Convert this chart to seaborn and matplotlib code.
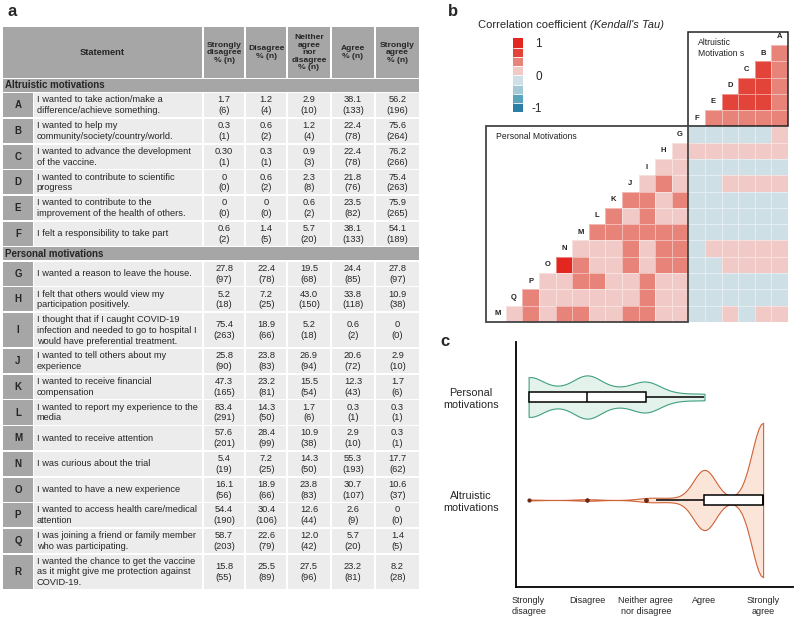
import numpy as np
import pandas as pd
import matplotlib
matplotlib.use("Agg")
import matplotlib.pyplot as plt
from matplotlib.patches import Rectangle
from matplotlib.colors import ListedColormap, Normalize
import matplotlib.cm as cm
import seaborn as sns

sns.set_theme(style="white")
plt.rcParams['font.family'] = ['Liberation Sans', 'DejaVu Sans']

# ---------------- panel a : table data
letters = list("ABCDEFGHIJKLMNOPQR")
statements = [
    "I wanted to take action/make a\ndifference/achieve something.",
    "I wanted to help my\ncommunity/society/country/world.",
    "I wanted to advance the development\nof the vaccine.",
    "I wanted to contribute to scientific\nprogress",
    "I wanted to contribute to the\nimprovement of the health of others.",
    "I felt a responsibility to take part",
    "I wanted a reason to leave the house.",
    "I felt that others would view my\nparticipation positively.",
    "I thought that if I caught COVID-19\ninfection and needed to go to hospital I\nwould have preferential treatment.",
    "I wanted to tell others about my\nexperience",
    "I wanted to receive financial\ncompensation",
    "I wanted to report my experience to the\nmedia",
    "I wanted to receive attention",
    "I was curious about the trial",
    "I wanted to have a new experience",
    "I wanted to access health care/medical\nattention",
    "I was joining a friend or family member\nwho was participating.",
    "I wanted the chance to get the vaccine\nas it might give me protection against\nCOVID-19.",
]
pct_sd = ["1.7", "0.3", "0.30", "0", "0", "0.6", "27.8", "5.2", "75.4", "25.8", "47.3", "83.4", "57.6", "5.4", "16.1", "54.4", "58.7", "15.8"]
n_sd = [6, 1, 1, 0, 0, 2, 97, 18, 263, 90, 165, 291, 201, 19, 56, 190, 203, 55]
pct_d = ["1.2", "0.6", "0.3", "0.6", "0", "1.4", "22.4", "7.2", "18.9", "23.8", "23.2", "14.3", "28.4", "7.2", "18.9", "30.4", "22.6", "25.5"]
n_d = [4, 2, 1, 2, 0, 5, 78, 25, 66, 83, 81, 50, 99, 25, 66, 106, 79, 89]
pct_n = ["2.9", "1.2", "0.9", "2.3", "0.6", "5.7", "19.5", "43.0", "5.2", "26.9", "15.5", "1.7", "10.9", "14.3", "23.8", "12.6", "12.0", "27.5"]
n_n = [10, 4, 3, 8, 2, 20, 68, 150, 18, 94, 54, 6, 38, 50, 83, 44, 42, 96]
pct_a = ["38.1", "22.4", "22.4", "21.8", "23.5", "38.1", "24.4", "33.8", "0.6", "20.6", "12.3", "0.3", "2.9", "55.3", "30.7", "2.6", "5.7", "23.2"]
n_a = [133, 78, 78, 76, 82, 133, 85, 118, 2, 72, 43, 1, 10, 193, 107, 9, 20, 81]
pct_sa = ["56.2", "75.6", "76.2", "75.4", "75.9", "54.1", "27.8", "10.9", "0", "2.9", "1.7", "0.3", "0.3", "17.7", "10.6", "0", "1.4", "8.2"]
n_sa = [196, 264, 266, 263, 265, 189, 97, 38, 0, 10, 6, 1, 1, 62, 37, 0, 5, 28]
header_labels = ["Strongly\ndisagree\n% (n)", "Disagree\n% (n)", "Neither\nagree\nnor\ndisagree\n% (n)",
                 "Agree\n% (n)", "Strongly\nagree\n% (n)"]

# ---------------- panel b : Kendall tau (rows B..R, values from column A onwards)
row_letters = list("BCDEFGHIJKLMNOPQR")
diag_labels = list("ABCDEFGHIJKLMNOPQ") + ["M"]
tau_rows = [
    [0.40],
    [0.40, 0.65],
    [0.40, 0.65, 0.65],
    [0.40, 0.65, 0.65, 0.65],
    [0.40, 0.40, 0.40, 0.40, 0.40],
    [0.15, -0.1, -0.1, -0.1, -0.1, -0.1],
    [0.15, 0.15, 0.15, 0.15, 0.15, 0.15, 0.15],
    [-0.1, -0.1, -0.1, -0.1, -0.1, -0.1, 0.15, 0.15],
    [0.15, 0.15, 0.15, 0.15, -0.1, -0.1, 0.15, 0.40, 0.15],
    [-0.1, -0.1, -0.1, -0.1, -0.1, -0.1, 0.40, 0.15, 0.40, 0.40],
    [-0.1, -0.1, -0.1, -0.1, -0.1, -0.1, 0.15, 0.15, 0.40, 0.15, 0.40],
    [-0.1, -0.1, -0.1, -0.1, -0.1, -0.1, 0.40, 0.40, 0.40, 0.40, 0.40, 0.40],
    [0.15, 0.15, 0.15, 0.15, 0.15, -0.1, 0.40, 0.40, 0.15, 0.40, 0.15, 0.15, 0.15],
    [0.15, 0.15, 0.15, 0.15, -0.1, -0.1, 0.40, 0.40, 0.15, 0.40, 0.15, 0.15, 0.40, 0.85],
    [-0.1, -0.1, -0.1, -0.1, -0.1, -0.1, 0.15, 0.15, 0.40, 0.15, 0.15, 0.40, 0.40, 0.15, 0.15],
    [-0.1, -0.1, -0.1, -0.1, -0.1, -0.1, 0.15, 0.15, 0.40, 0.15, 0.15, 0.15, 0.15, 0.15, 0.15, 0.40],
    [0.15, 0.15, -0.1, 0.15, -0.1, -0.1, 0.15, 0.15, 0.40, 0.40, 0.15, 0.15, 0.40, 0.40, 0.15, 0.40, 0.15],
]
tau_colors = ['#2b7fa6', '#58a4bd', '#a3c9d7', '#cee0e6', '#f1c9c6', '#e8837a', '#e2443a', '#e3261f']

# ---------------- panel c : score distributions
groups = ["Personal\nmotivations", "Altruistic\nmotivations"]
personal_scores = [1, 1.5, 2, 2.5, 3, 3.5, 4]
personal_counts = [40, 13, 42, 13, 30, 6, 6]
altruistic_scores = [1, 2, 3, 3.17, 3.5, 4, 4.5, 5]
altruistic_counts = [1, 2, 3, 3, 4, 78, 3, 200]
likert = ["Strongly\ndisagree", "Disagree", "Neither agree\nnor disagree", "Agree", "Strongly\nagree"]

W, H = 800, 624
fig = plt.figure(figsize=(8, 6.24), dpi=100)

# ================= table (pixel coordinates)
ax_t = fig.add_axes([0, 0, 1, 1])
ax_t.set_xlim(0, W)
ax_t.set_ylim(H, 0)
ax_t.axis('off')

dark = '#a6a6a6'
light = '#ececec'
fs = 6.7
gap = 1.6
x_left, x_letter, x_stmt_end = 2.7, 33.3, 201.8
col_edges = [(203.8, 244.4), (246.2, 286.2), (288.0, 330.0), (331.8, 374.0), (375.8, 419.3)]

y = 27.0
hh = 50.5
ax_t.add_patch(Rectangle((x_left, y), x_stmt_end - x_left, hh, fc=dark, ec='none'))
ax_t.text((x_left + x_stmt_end) / 2, y + hh / 2, "Statement", ha='center', va='center',
          fontsize=fs, fontweight='bold')
for (x0, x1), lab in zip(col_edges, header_labels):
    ax_t.add_patch(Rectangle((x0, y), x1 - x0, hh, fc=dark, ec='none'))
    ax_t.text((x0 + x1) / 2, y + hh / 2 + 0.5, lab, ha='center', va='center', fontsize=6.1,
              fontweight='bold', linespacing=1.1)
y += hh + gap

pct_cols = [pct_sd, pct_d, pct_n, pct_a, pct_sa]
n_cols = [n_sd, n_d, n_n, n_a, n_sa]
for i, let in enumerate(letters):
    if i in (0, 6):
        sh = 12.6
        title = "Altruistic motivations" if i == 0 else "Personal motivations"
        ax_t.add_patch(Rectangle((x_left, y), col_edges[-1][1] - x_left, sh, fc=dark, ec='none'))
        ax_t.text(x_left + 2.5, y + sh / 2, title, ha='left', va='center', fontsize=fs + 0.3,
                  fontweight='bold')
        y += sh + gap
    nlines = statements[i].count("\n") + 1
    rh = 34.4 if nlines == 3 else 24.1
    ax_t.add_patch(Rectangle((x_left, y), x_letter - x_left, rh, fc=dark, ec='none'))
    ax_t.text((x_left + x_letter) / 2, y + rh / 2, let, ha='center', va='center', fontsize=fs + 0.3,
              fontweight='bold')
    ax_t.add_patch(Rectangle((x_letter + 0.8, y), x_stmt_end - x_letter - 0.8, rh, fc=light, ec='none'))
    ax_t.text(x_letter + 3.5, y + rh / 2, statements[i], ha='left', va='center', fontsize=fs,
              linespacing=1.25)
    for (x0, x1), pc, nc in zip(col_edges, pct_cols, n_cols):
        ax_t.add_patch(Rectangle((x0, y), x1 - x0, rh, fc=light, ec='none'))
        ax_t.text((x0 + x1) / 2, y + rh / 2, f"{pc[i]}\n({nc[i]})", ha='center', va='center',
                  fontsize=fs, linespacing=1.25)
    y += rh + gap

ax_t.text(8, 11, "a", fontsize=12, fontweight='bold', va='center', ha='left')
ax_t.text(448, 11, "b", fontsize=12, fontweight='bold', va='center', ha='left')
ax_t.text(440, 341, "c", fontsize=12, fontweight='bold', va='center', ha='left')

# ================= heatmap
hm_left, hm_right, hm_top, hm_bot = 505.8, 788.0, 45.0, 321.8
ax_h = fig.add_axes([hm_left / W, 1 - hm_bot / H, (hm_right - hm_left) / W, (hm_bot - hm_top) / H])
n = len(row_letters)
mat = np.full((n, n), np.nan)
for r, vals in enumerate(tau_rows):
    for c, v in enumerate(vals):
        mat[r, n - 1 - c] = v
tau_df = pd.DataFrame(mat, index=row_letters, columns=list("QPONMLKJIHGFEDCBA"))
cmap = ListedColormap(tau_colors)
sns.heatmap(tau_df, ax=ax_h, cmap=cmap, vmin=-1, vmax=1, cbar=False, linewidths=0.5,
            linecolor=(1, 1, 1, 0.45), xticklabels=False, yticklabels=False)
for L, lab in enumerate(diag_labels):
    ax_h.text(n - 1 - L + 0.5, L - 1 + 0.5, lab, ha='center', va='center', fontsize=5.5,
              fontweight='bold', color='#222222', clip_on=False)
ax_h.add_patch(Rectangle((11, -0.82), 6, 5.82, fill=False, ec='#222222', lw=1.1, clip_on=False))
ax_h.add_patch(Rectangle((-1.19, 5), 12.19, 12, fill=False, ec='#444444', lw=1.3, clip_on=False))
ax_h.text(11.55, 0.2, "Altruistic\nMotivation s", ha='left', va='center', fontsize=6.2,
          linespacing=1.3, color='#222222')
ax_h.text(-0.6, 5.65, "Personal Motivations", ha='left', va='center', fontsize=6.2, color='#222222')

# legend / colour key
ax_cb = fig.add_axes([513.3 / W, 1 - 112.3 / H, 9.4 / W, 74 / H])
sm = cm.ScalarMappable(norm=Normalize(-1, 1), cmap=cmap)
cbar = fig.colorbar(sm, cax=ax_cb, drawedges=True)
cbar.outline.set_visible(False)
cbar.dividers.set_color('white')
cbar.dividers.set_linewidth(0.6)
cbar.set_ticks([0.875, 0, -0.875])
cbar.set_ticklabels(["1", "0", "-1"])
ax_cb.tick_params(length=0, labelsize=8.5, pad=14)
for lbl in ax_cb.get_yticklabels():
    lbl.set_ha('right')
t1 = fig.text(478 / W, 1 - 25 / H, "Correlation coefficient ", fontsize=8, va='center', ha='left')
ax_t.annotate("(Kendall's Tau)", xy=(1, 0), xycoords=t1, ha='left', va='bottom', fontsize=8,
              style='italic')

# ================= violins
ax_v = fig.add_axes([515.7 / W, 1 - 586.7 / H, (793 - 515.7) / W, (586.7 - 341.7) / H])
df_p = pd.DataFrame({"score": np.repeat(personal_scores, personal_counts), "group": groups[0]})
df_a = pd.DataFrame({"score": np.repeat(altruistic_scores, altruistic_counts), "group": groups[1]})
df_all = pd.concat([df_p, df_a], ignore_index=True)

sns.violinplot(data=df_p, x="score", y="group", order=groups, orient="h", color="#e4f2ec",
               linecolor="#3f9f7f", linewidth=0.8, cut=0, bw_adjust=0.78, inner=None,
               width=0.42, saturation=1, ax=ax_v)
sns.violinplot(data=df_a, x="score", y="group", order=groups, orient="h", color="#fbe5d9",
               linecolor="#cf6236", linewidth=0.8, cut=0, bw_adjust=1.0, inner=None,
               width=1.5, saturation=1, ax=ax_v)
sns.boxplot(data=df_all, x="score", y="group", order=groups, orient="h", width=0.1,
            color="white", linecolor="black", linewidth=1.1, whis=0.85, saturation=1,
            fliersize=2, capprops=dict(linewidth=0),
            flierprops=dict(marker='o', markerfacecolor='#6b2a14', markeredgecolor='#6b2a14'),
            ax=ax_v)

ax_v.set_xlim(0.78, 5.51)
ax_v.set_ylim(1.842, -0.537)
ax_v.set_xticks([1, 2, 3, 4, 5])
ax_v.set_xticklabels(likert, fontsize=6.5)
ax_v.set_yticks([0, 1])
ax_v.set_yticklabels(groups, fontsize=7.8)
for lbl in ax_v.get_yticklabels():
    lbl.set_multialignment('center')
ax_v.tick_params(axis='x', length=0, pad=7)
ax_v.tick_params(axis='y', length=0, pad=12)
ax_v.set_xlabel("")
ax_v.set_ylabel("")
sns.despine(ax=ax_v)
for s in ("left", "bottom"):
    ax_v.spines[s].set_color("black")
    ax_v.spines[s].set_linewidth(1.3)

fig.savefig("out.png", dpi=100, facecolor="white")
